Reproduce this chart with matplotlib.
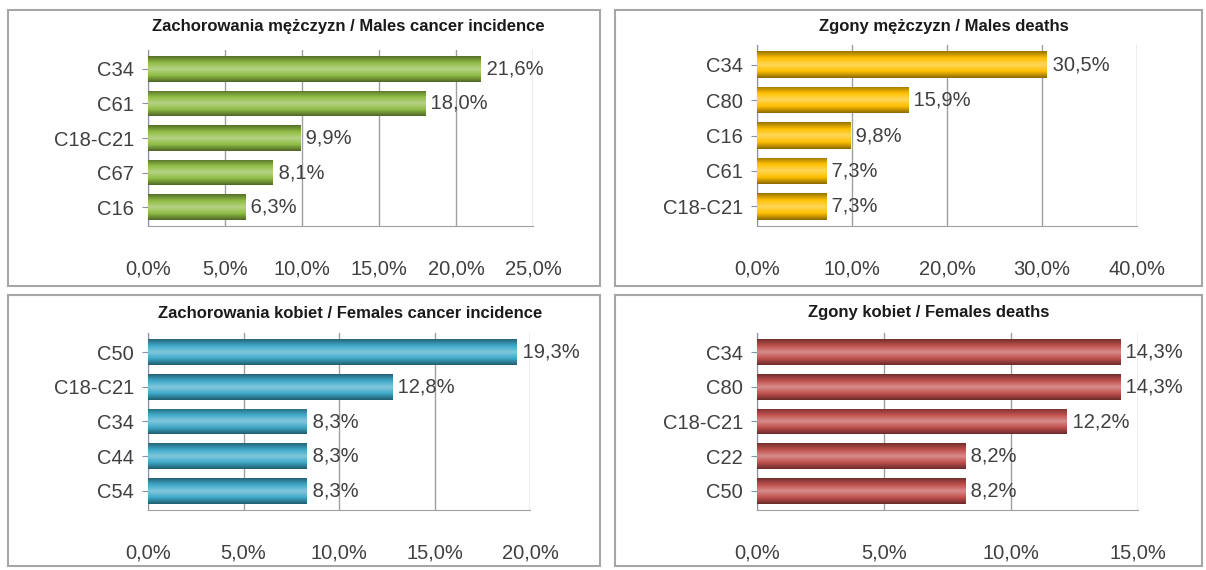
import numpy as np
import matplotlib.pyplot as plt
from matplotlib.patches import Rectangle
from matplotlib.colors import LinearSegmentedColormap, to_rgb

plt.rcParams["font.family"] = ["Liberation Sans Narrow", "Liberation Sans", "DejaVu Sans"]

# data
males_inc_labels = ["C34", "C61", "C18-C21", "C67", "C16"]
males_inc_values = [21.6, 18.0, 9.9, 8.1, 6.3]
males_dth_labels = ["C34", "C80", "C16", "C61", "C18-C21"]
males_dth_values = [30.5, 15.9, 9.8, 7.3, 7.3]
females_inc_labels = ["C50", "C18-C21", "C34", "C44", "C54"]
females_inc_values = [19.3, 12.8, 8.3, 8.3, 8.3]
females_dth_labels = ["C34", "C80", "C18-C21", "C22", "C50"]
females_dth_values = [14.3, 14.3, 12.2, 8.2, 8.2]

titles = ["Zachorowania mężczyzn / Males cancer incidence",
          "Zgony mężczyzn / Males deaths",
          "Zachorowania kobiet / Females cancer incidence",
          "Zgony kobiet / Females deaths"]
xticks = [[0, 5, 10, 15, 20, 25], [0, 10, 20, 30, 40],
          [0, 5, 10, 15, 20], [0, 5, 10, 15]]
colors = ["#8fbc45", "#ffc000", "#3fa9c9", "#c0504d"]

W, H = 1206, 570
fig = plt.figure(figsize=(W / 100, H / 100), dpi=100)


def fx(px):
    return px / W


def fy(py):
    return 1 - py / H


# panel frames (px: left, top, right, bottom)
frames = [(8, 10, 600, 286), (615, 10, 1202, 286),
          (8, 295, 600, 566), (615, 295, 1202, 566)]
# title centres (px)
title_pos = [(348, 27), (944, 27), (350, 313), (929, 313)]
# axes boxes (px: x0 at 0, x at max tick, top, bottom)
axboxes = [(148, 533, 50, 226), (757, 1137, 45, 226),
           (148, 530, 333, 510), (757, 1138, 333, 510)]
panels = [(males_inc_labels, males_inc_values),
          (males_dth_labels, males_dth_values),
          (females_inc_labels, females_inc_values),
          (females_dth_labels, females_dth_values)]


def fmt(v):
    return f"{v:.1f}%".replace(".", ",")


for i, (labels, values) in enumerate(panels):
    l, t, r, b = frames[i]
    fig.add_artist(Rectangle((fx(l), fy(b)), fx(r - l), (b - t) / H,
                             transform=fig.transFigure, fill=False,
                             edgecolor="#a6a6a6", linewidth=1.5))
    tx, ty = title_pos[i]
    fig.text(fx(tx), fy(ty), titles[i], ha="center", va="center",
             fontsize=12, fontweight="bold", color="#1a1a1a")

    x0, x1, y0, y1 = axboxes[i]
    ax = fig.add_axes([fx(x0), fy(y1), fx(x1 - x0), (y1 - y0) / H])
    n = len(labels)
    ypos = np.arange(n)[::-1]
    bars = ax.barh(ypos, values, height=0.74, color=colors[i],
                   edgecolor="none", zorder=3)

    base = np.array(to_rgb(colors[i]))
    cmap = LinearSegmentedColormap.from_list(
        "cyl", [base * 0.55, base, base + (1 - base) * 0.35, base, base * 0.6])
    grad = np.linspace(0, 1, 64).reshape(-1, 1)
    for p in bars:
        xb, yb = p.get_x(), p.get_y()
        im = ax.imshow(grad, extent=[xb, xb + p.get_width(), yb, yb + p.get_height()],
                       cmap=cmap, aspect="auto", origin="lower", zorder=4)
        im.set_clip_path(p)

    for y, v in zip(ypos, values):
        ax.text(v, y, " " + fmt(v), ha="left", va="center", fontsize=14.5,
                color="#404040", zorder=5)

    ax.set_xlim(0, xticks[i][-1])
    ax.set_ylim(-0.55, n - 0.45)
    ax.set_yticks(ypos)
    ax.set_yticklabels(labels, fontsize=14.5, color="#404040")
    ax.set_xticks(xticks[i])
    ax.set_xticklabels([fmt(v) for v in xticks[i]], fontsize=14.5, color="#404040")
    ax.tick_params(axis="x", length=0, pad=24)
    ax.tick_params(axis="y", length=4, color="#8a8fb0", pad=6)
    ax.grid(axis="x", color="#a0a0a0", linewidth=1, zorder=0)
    for s in ["top", "right"]:
        ax.spines[s].set_visible(False)
    ax.spines["left"].set_color("#8a8fb0")
    ax.spines["bottom"].set_color("#a0a0a0")

fig.savefig("out.png", dpi=100)
